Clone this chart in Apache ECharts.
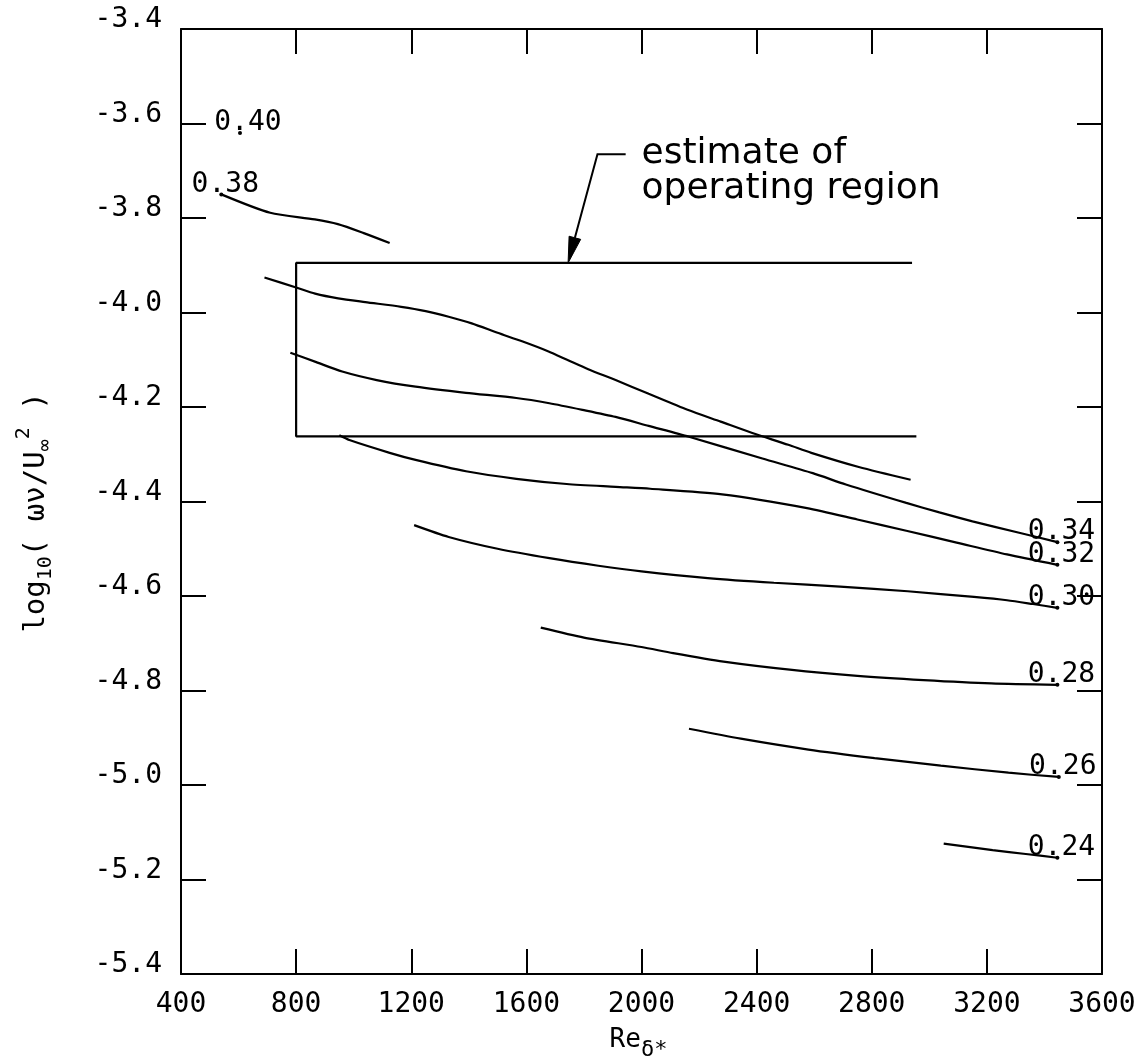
<!DOCTYPE html>
<html>
<head>
<meta charset="utf-8">
<script src="https://cdn.jsdelivr.net/npm/echarts@6/dist/echarts.min.js"></script>
<style>
  html, body { margin: 0; padding: 0; background: #fff; }
  #chart { width: 1148px; height: 1064px; }
</style>
</head>
<body>
<div id="chart"></div>
<script>
// Axis ticks
const xTicks = [400, 800, 1200, 1600, 2000, 2400, 2800, 3200, 3600];
const yTicks = [-5.4, -5.2, -5.0, -4.8, -4.6, -4.4, -4.2, -4.0, -3.8, -3.6, -3.4];

// Contour lines: [Re_delta*, log10(omega nu / U^2)]
const c040 = [[605, -3.62]];
const c038 = [[540, -3.750], [710, -3.789], [865, -3.803], [945, -3.813], [1035, -3.832], [1125, -3.853]];
const c036 = [[690, -3.926], [800, -3.947], [866, -3.960], [946, -3.970], [1040, -3.978], [1165, -3.988],
              [1250, -3.997], [1330, -4.009], [1410, -4.023], [1500, -4.043], [1585, -4.061], [1675, -4.082],
              [1745, -4.101], [1815, -4.120], [1910, -4.143], [2025, -4.172], [2160, -4.206], [2275, -4.231],
              [2385, -4.255], [2510, -4.280], [2590, -4.297], [2755, -4.327], [2935, -4.354]];
const c034 = [[780, -4.085], [870, -4.105], [960, -4.125], [1080, -4.143], [1215, -4.157], [1390, -4.170],
              [1565, -4.181], [1680, -4.192], [1795, -4.206], [1910, -4.221], [2025, -4.240], [2165, -4.263],
              [2420, -4.309], [2595, -4.340], [2710, -4.364], [2920, -4.403], [3035, -4.423], [3150, -4.442],
              [3305, -4.465], [3445, -4.486]];
const c032 = [[950, -4.260], [985, -4.270], [1125, -4.297], [1215, -4.312], [1390, -4.336], [1565, -4.352],
              [1740, -4.363], [1910, -4.369], [2030, -4.373], [2280, -4.385], [2575, -4.414], [2750, -4.438],
              [2920, -4.462], [3095, -4.487], [3270, -4.512], [3445, -4.534]];
const c030 = [[1210, -4.450], [1330, -4.475], [1500, -4.500], [1680, -4.520], [1850, -4.536], [2000, -4.548],
              [2230, -4.562], [2460, -4.572], [2690, -4.580], [2925, -4.590], [3155, -4.602], [3270, -4.609],
              [3360, -4.617], [3445, -4.625]];
const c028 = [[1650, -4.667], [1800, -4.688], [2000, -4.708], [2110, -4.721], [2285, -4.739], [2515, -4.756],
              [2750, -4.769], [2980, -4.778], [3215, -4.785], [3445, -4.788]];
const c026 = [[2165, -4.881], [2345, -4.902], [2580, -4.925], [2810, -4.943], [3040, -4.959], [3275, -4.974],
              [3450, -4.983]];
const c024 = [[3050, -5.124], [3220, -5.138], [3335, -5.146], [3445, -5.154]];

// Operating region outline (open on the high-Re side)
const regionOutline = [[2940, -3.895], [800, -3.895], [800, -4.262], [2955, -4.262]];

// Annotation anchors in data space
const noteTip = [1745, -3.895];
const noteKnee = [1847, -3.665];
const noteTail = [1945, -3.665];
const noteTextAt = [2000, -3.70];
const noteLines = ['estimate of', 'operating region'];

const INK = '#000';
const MONO = '"DejaVu Sans Mono", "Liberation Mono", monospace';
const SANS = '"DejaVu Sans", sans-serif';

const step = a => Math.round((a[1] - a[0]) * 1000) / 1000;

function contour(name, pts) {
  return {
    type: 'line', name, data: pts, symbol: 'none', smooth: 0.25,
    lineStyle: { color: INK, width: 2.2 }, z: 3, silent: true
  };
}

// Level labels sit where each line ends (0.38 at its start)
const levelMarks = [
  { name: '0.40', value: c040[0], offset: [8, -10] },
  { name: '0.38', value: c038[0] },
  { name: '0.34', value: c034[c034.length - 1] },
  { name: '0.32', value: c032[c032.length - 1] },
  { name: '0.30', value: c030[c030.length - 1] },
  { name: '0.28', value: c028[c028.length - 1] },
  { name: '0.26', value: c026[c026.length - 1] },
  { name: '0.24', value: c024[c024.length - 1] }
];

const axisLineStyle = { color: INK, width: 2 };
function xAxisDef(position, showLabels) {
  return {
    type: 'value', position,
    min: xTicks[0], max: xTicks[xTicks.length - 1], interval: step(xTicks),
    axisLine: { show: true, onZero: false, lineStyle: axisLineStyle },
    axisTick: { show: true, inside: true, length: 25, lineStyle: axisLineStyle },
    axisLabel: {
      show: showLabels, margin: 17, fontFamily: MONO, fontSize: 28, color: INK,
      formatter: v => String(v)
    },
    splitLine: { show: false }
  };
}
function yAxisDef(position, showLabels) {
  return {
    type: 'value', position,
    min: yTicks[0], max: yTicks[yTicks.length - 1], interval: step(yTicks),
    axisLine: { show: true, onZero: false, lineStyle: axisLineStyle },
    axisTick: { show: true, inside: true, length: 25, lineStyle: axisLineStyle },
    axisLabel: {
      show: showLabels, margin: 19, fontFamily: MONO, fontSize: 28, color: INK,
      verticalAlign: 'bottom', lineHeight: 18,
      formatter: v => v.toFixed(1)
    },
    splitLine: { show: false }
  };
}

const chart = echarts.init(document.getElementById('chart'), null, { renderer: 'canvas' });

const labelStyle = { fontFamily: MONO, fontSize: 28, color: INK, opacity: 1, textBorderWidth: 0 };

chart.setOption({
  animation: false,
  backgroundColor: '#fff',
  grid: { left: 181, right: 46, top: 29, bottom: 90, containLabel: false, outerBoundsMode: 'none' },
  xAxis: [xAxisDef('bottom', true), xAxisDef('top', false)],
  yAxis: [yAxisDef('left', true), yAxisDef('right', false)],
  series: [
    {
      type: 'line', name: 'operating region', data: regionOutline, symbol: 'none',
      lineStyle: { color: INK, width: 2.2 }, z: 2, silent: true
    },
    contour('0.38', c038),
    contour('0.36', c036),
    contour('0.34', c034),
    contour('0.32', c032),
    contour('0.30', c030),
    contour('0.28', c028),
    contour('0.26', c026),
    contour('0.24', c024),
    {
      type: 'scatter', name: 'levels', silent: true, z: 5,
      symbol: 'circle', symbolSize: 4, itemStyle: { color: INK, opacity: 1 },
      data: levelMarks.map(m => ({
        name: m.name, value: m.value,
        label: Object.assign({ offset: m.offset || [4, -10] }, labelStyle)
      })),
      label: Object.assign({ show: true, position: 'inside', formatter: '{b}' }, labelStyle)
    }
  ]
});

// Axis titles and the operating-region note
const toPx = p => chart.convertToPixel({ xAxisIndex: 0, yAxisIndex: 0 }, p);
const tip = toPx(noteTip), knee = toPx(noteKnee), tail = toPx(noteTail), txt = toPx(noteTextAt);
const dx = tip[0] - knee[0], dy = tip[1] - knee[1];
const len = Math.hypot(dx, dy), ux = dx / len, uy = dy / len;
const headLen = 26, headHalf = 6;
const base = [tip[0] - ux * headLen, tip[1] - uy * headLen];
const gridRect = chart.getModel().getComponent('grid').coordinateSystem.getRect();

chart.setOption({
  graphic: [
    {
      type: 'polyline', silent: true, z: 10,
      shape: { points: [tail, knee, base] },
      style: { stroke: INK, lineWidth: 2, fill: null }
    },
    {
      type: 'polygon', silent: true, z: 10,
      shape: { points: [tip,
        [base[0] - uy * headHalf, base[1] + ux * headHalf],
        [base[0] + uy * headHalf, base[1] - ux * headHalf]] },
      style: { fill: INK, stroke: INK, lineWidth: 1 }
    },
    {
      type: 'text', silent: true, z: 10, x: txt[0], y: txt[1],
      style: {
        text: noteLines.join('\n'), fill: INK, font: '36px ' + SANS,
        lineHeight: 35, align: 'left', verticalAlign: 'middle'
      }
    },
    {
      type: 'text', silent: true, z: 10,
      x: 28, y: gridRect.y + gridRect.height / 2 + 11, rotation: Math.PI / 2,
      style: {
        text: '{b|log}{s|10}{b|( ων/U}{s|∞}{p|2}{b| )}',
        align: 'center', verticalAlign: 'middle', fill: INK,
        rich: {
          b: { fontFamily: MONO, fontSize: 29, lineHeight: 29, padding: [8, 0, 0, 0], verticalAlign: 'top', fill: INK },
          s: { fontFamily: MONO, fontSize: 20, lineHeight: 20, padding: [22, 0, 0, 0], verticalAlign: 'top', fill: INK },
          p: { fontFamily: MONO, fontSize: 20, lineHeight: 20, padding: [0, 0, 0, 0], verticalAlign: 'top', fill: INK }
        }
      }
    },
    {
      type: 'text', silent: true, z: 10,
      x: gridRect.x + gridRect.width / 2 - 3, y: 1040,
      style: {
        text: '{b|Re}{s|δ*}',
        align: 'center', verticalAlign: 'middle', fill: INK,
        rich: {
          b: { fontFamily: MONO, fontSize: 26, lineHeight: 26, padding: [0, 0, 0, 0], verticalAlign: 'top', fill: INK },
          s: { fontFamily: MONO, fontSize: 22, lineHeight: 22, padding: [12, 0, 0, 0], verticalAlign: 'top', fill: INK }
        }
      }
    }
  ]
});
</script>
</body>
</html>
